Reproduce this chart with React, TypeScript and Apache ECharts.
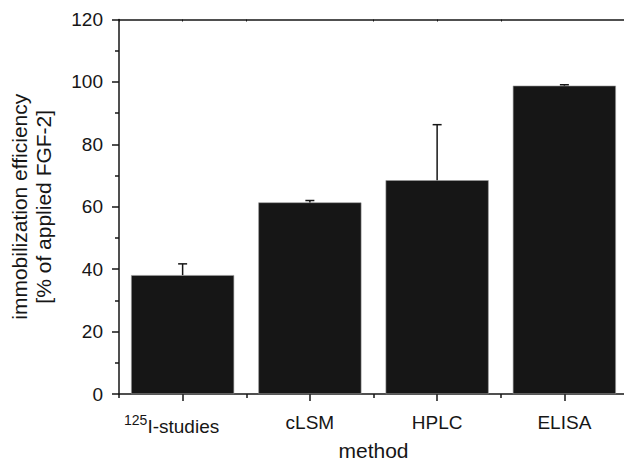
import React, { useEffect, useRef } from "react";
import * as echarts from "echarts";

const categories = ["{sup|125}{base|I-studies}", "cLSM", "HPLC", "ELISA"];
const means = [38.1, 61.4, 68.5, 98.8];
const errors = [3.6, 0.6, 17.8, 0.3];
const yTicks = { min: 0, max: 120, interval: 20 };

const FONT = "'Liberation Sans', Arial, sans-serif";
const INK = "#161616";

export default function App() {
  const ref = useRef<HTMLDivElement>(null);
  useEffect(() => {
    if (!ref.current) return;
    const chart = echarts.init(ref.current, undefined, { renderer: "svg" });
    const errData = means.map((m, i) => [i, m, m + errors[i]]);
    const lineStyle = { color: INK, width: 1.5 };
    const baseX = {
      type: "category" as const,
      data: categories,
      boundaryGap: true,
    };
    chart.setOption({
      animation: false,
      grid: { left: 119, right: -4, top: 19.5, bottom: 67, containLabel: false, outerBoundsMode: "none" },
      xAxis: [
        {
          ...baseX,
          position: "bottom",
          name: "method",
          nameLocation: "middle",
          nameGap: 36,
          nameTextStyle: { fontFamily: FONT, fontSize: 21, lineHeight: 21, color: INK },
          axisLine: { show: true, lineStyle },
          axisTick: { show: true, alignWithLabel: true, length: 7, lineStyle },
          axisLabel: {
            show: true,
            interval: 0,
            margin: 19,
            fontFamily: FONT,
            fontSize: 19,
            color: INK,
            rich: {
              sup: { fontFamily: FONT, fontSize: 14, color: INK, padding: [0, 0, 12, 0] },
              base: { fontFamily: FONT, fontSize: 19, color: INK, padding: [0, 22, 0, 0] },
            },
          },
          splitLine: { show: false },
        },
        {
          ...baseX,
          position: "bottom",
          axisLine: { show: false },
          axisTick: { show: true, alignWithLabel: false, length: 4, lineStyle, interval: 0 },
          axisLabel: { show: false },
          splitLine: { show: false },
        },
        {
          ...baseX,
          position: "top",
          axisLine: { show: true, lineStyle },
          axisTick: { show: true, alignWithLabel: true, inside: true, length: 2, lineStyle: { color: INK, width: 1 } },
          axisLabel: { show: false },
          splitLine: { show: false },
        },
        {
          ...baseX,
          position: "top",
          axisLine: { show: false },
          axisTick: { show: true, alignWithLabel: false, inside: true, length: 2, lineStyle: { color: INK, width: 1 }, interval: 0 },
          axisLabel: { show: false },
          splitLine: { show: false },
        },
      ],
      yAxis: {
        type: "value",
        min: yTicks.min,
        max: yTicks.max,
        interval: yTicks.interval,
        name: "immobilization efficiency\n[% of applied FGF-2]",
        nameLocation: "middle",
        nameGap: 64,
        nameRotate: 90,
        nameTextStyle: { fontFamily: FONT, fontSize: 21, color: INK, lineHeight: 24, align: "center" },
        axisLine: { show: true, lineStyle },
        axisTick: { show: true, length: 7, lineStyle },
        minorTick: { show: true, splitNumber: 2, length: 4, lineStyle },
        axisLabel: { margin: 16, fontFamily: FONT, fontSize: 19, color: INK },
        splitLine: { show: false },
      },
      series: [
        {
          type: "bar",
          xAxisIndex: 0,
          data: means,
          barCategoryGap: "19%",
          itemStyle: { color: INK, borderColor: "#9a9a9a", borderWidth: 0.6 },
          z: 2,
        },
        {
          type: "custom",
          xAxisIndex: 0,
          data: errData,
          encode: { x: 0, y: [1, 2] },
          z: 3,
          renderItem: (params: any, api: any) => {
            const p0 = api.coord([api.value(0), api.value(1)]);
            const p1 = api.coord([api.value(0), api.value(2)]);
            const hw = 4.5;
            return {
              type: "group",
              children: [
                {
                  type: "line",
                  shape: { x1: p0[0], y1: p0[1], x2: p1[0], y2: p1[1] },
                  style: { stroke: INK, lineWidth: 1.5 },
                },
                {
                  type: "line",
                  shape: { x1: p1[0] - hw, y1: p1[1], x2: p1[0] + hw, y2: p1[1] },
                  style: { stroke: INK, lineWidth: 1.5 },
                },
              ],
            };
          },
        },
      ],
    });
    return () => chart.dispose();
  }, []);
  return (
    <div
      ref={ref}
      style={{ position: "fixed", left: 0, top: 0, width: 624, height: 461, background: "#fff" }}
    />
  );
}
